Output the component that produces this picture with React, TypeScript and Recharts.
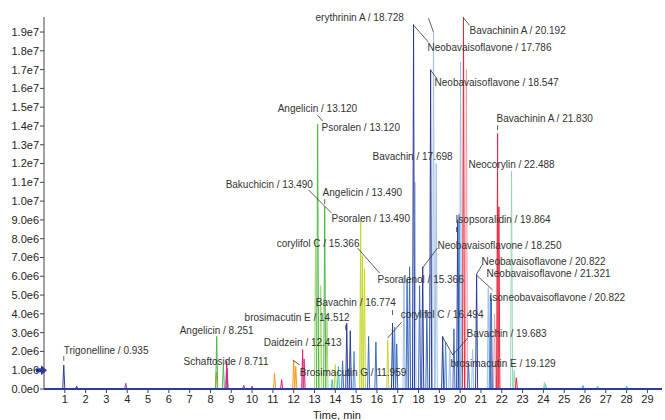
import { LineChart, Line, XAxis, YAxis, ReferenceDot, ReferenceLine, Label } from "recharts";

// time axis ticks (min) and intensity ticks (cps)
const minuteTicks = [1, 2, 3, 4, 5, 6, 7, 8, 9, 10, 11, 12, 13, 14, 15, 16, 17, 18, 19, 20, 21, 22, 23, 24, 25, 26, 27, 28, 29];
const intensityTicks = [0, 1e6, 2e6, 3e6, 4e6, 5e6, 6e6, 7e6, 8e6, 9e6, 1e7, 1.1e7, 1.2e7, 1.3e7, 1.4e7, 1.5e7, 1.6e7, 1.7e7, 1.8e7, 1.9e7];

// peaks per trace: [retention time (min), height (cps)]
const navyPeaks = [
  [0.95, 1.28e6], [1.57, 0.16e6], [14.55, 3.5e6], [14.72, 3.1e6], [16.75, 3.5e6],
  [17.76, 19.4e6], [18.2, 6.5e6], [18.58, 17.0e6], [19.16, 2.8e6], [19.88, 9.0e6], [20.79, 6.1e6],
];
const bluePeaks = [
  [14.35, 1.5e6], [15.6, 2.8e6], [15.95, 2.5e6], [16.95, 2.4e6], [17.45, 5.8e6], [17.57, 6.5e6],
  [18.05, 5.5e6], [18.4, 4.2e6], [19.7, 3.2e6], [20.4, 1.4e6], [21.5, 4.8e6],
];
const lightBluePeaks = [
  [17.3, 6.0e6], [17.83, 11.0e6], [18.72, 19.0e6], [18.85, 12.0e6], [19.5, 2.0e6],
  [20.02, 17.4e6], [20.6, 2.1e6], [21.35, 5.4e6],
];
const steelBluePeaks = [
  [14.9, 2.0e6], [16.85, 3.3e6], [19.3, 2.5e6], [19.95, 9.3e6], [21.45, 5.0e6],
];
const redPeaks = [[20.16, 19.8e6], [21.8, 13.6e6], [21.86, 9.7e6], [22.7, 0.6e6]];
const lightRedPeaks = [[20.3, 17.0e6], [21.65, 4.0e6]];
const greenPeaks = [[8.3, 2.8e6], [8.62, 1.3e6], [13.15, 14.1e6], [13.49, 9.7e6]];
const lightGreenPeaks = [[13.05, 8.0e6], [13.3, 5.5e6], [13.6, 4.0e6]];
const yellowGreenPeaks = [[14.0, 1.3e6], [15.22, 9.0e6], [15.3, 7.1e6], [15.4, 6.4e6], [16.52, 2.6e6]];
const mintPeaks = [[22.47, 11.6e6], [22.6, 1.0e6], [24.05, 0.37e6]];
const orangePeaks = [[8.28, 0.9e6], [11.08, 0.85e6], [12.0, 1.5e6], [12.1, 1.2e6]];
const magentaPeaks = [[8.78, 1.5e6], [11.42, 0.5e6], [12.43, 2.1e6], [12.5, 1.6e6]];
const purplePeaks = [[3.93, 0.3e6], [8.8, 1.1e6], [9.6, 0.2e6], [10.0, 0.15e6]];
const cyanPeaks = [[13.85, 0.5e6], [14.15, 1.2e6], [24.1, 0.25e6], [25.9, 0.2e6], [26.6, 0.15e6], [28.0, 0.15e6]];

const traces = [
  { key: "orange", color: "#f29a1e", peaks: orangePeaks },
  { key: "purple", color: "#9b3fb5", peaks: purplePeaks },
  { key: "magenta", color: "#e2207f", peaks: magentaPeaks },
  { key: "cyan", color: "#2dbfe0", peaks: cyanPeaks },
  { key: "mint", color: "#98d8b4", peaks: mintPeaks },
  { key: "lightGreen", color: "#a6d870", peaks: lightGreenPeaks },
  { key: "green", color: "#4cb848", peaks: greenPeaks },
  { key: "yellowGreen", color: "#c5d628", peaks: yellowGreenPeaks },
  { key: "lightRed", color: "#f39aa2", peaks: lightRedPeaks },
  { key: "red", color: "#e8253a", peaks: redPeaks },
  { key: "lightBlue", color: "#a3c1e6", peaks: lightBluePeaks },
  { key: "steelBlue", color: "#4a90d9", peaks: steelBluePeaks },
  { key: "blue", color: "#3d6cc0", peaks: bluePeaks },
  { key: "navy", color: "#2b3c9b", peaks: navyPeaks },
];

const HALF = 0.05;
function toTrace(peaks: number[][]) {
  const pts: { t: number; v: number }[] = [{ t: 0, v: 0 }];
  peaks.forEach(([t, h]) => {
    pts.push({ t: t - HALF, v: 0 }, { t, v: h }, { t: t + HALF, v: 0 });
  });
  pts.push({ t: 29.7, v: 0 });
  return pts.sort((a, b) => a.t - b.t);
}

// annotation text, anchored at its left/middle point (time, intensity)
const annotations = [
  { text: "erythrinin A / 18.728", t: 13.05, v: 19.75e6 },
  { text: "Bavachinin A / 20.192", t: 20.45, v: 19.1e6 },
  { text: "Neobavaisoflavone / 17.786", t: 18.43, v: 18.19e6 },
  { text: "Neobavaisoflavone / 18.547", t: 18.77, v: 16.33e6 },
  { text: "Angelicin / 13.120", t: 11.23, v: 14.95e6 },
  { text: "Psoralen / 13.120", t: 13.34, v: 13.94e6 },
  { text: "Bavachinin A / 21.830", t: 21.75, v: 14.41e6 },
  { text: "Bavachin / 17.698", t: 15.79, v: 12.39e6 },
  { text: "Neocorylin / 22.488", t: 20.4, v: 11.97e6 },
  { text: "Bakuchicin / 13.490", t: 8.73, v: 10.9e6 },
  { text: "Angelicin / 13.490", t: 13.39, v: 10.48e6 },
  { text: "Psoralen / 13.490", t: 13.82, v: 9.1e6 },
  { text: "Isopsoralidin / 19.864", t: 19.78, v: 9.04e6 },
  { text: "corylifol C / 15.366", t: 11.18, v: 7.77e6 },
  { text: "Neobavaisoflavone / 18.250", t: 18.91, v: 7.66e6 },
  { text: "Neobavaisoflavone / 20.822", t: 21.03, v: 6.81e6 },
  { text: "Neobavaisoflavone / 21.321", t: 21.27, v: 6.17e6 },
  { text: "Psoralenol / 15.366", t: 16.03, v: 5.85e6 },
  { text: "Isoneobavaisoflavone / 20.822", t: 21.41, v: 4.89e6 },
  { text: "Bavachin / 16.774", t: 13.06, v: 4.63e6 },
  { text: "brosimacutin E / 14.512", t: 9.64, v: 3.83e6 },
  { text: "corylifol C / 16.494", t: 17.14, v: 3.94e6 },
  { text: "Angelicin / 8.251", t: 6.52, v: 3.14e6 },
  { text: "Bavachin / 19.683", t: 20.31, v: 2.98e6 },
  { text: "Daidzein / 12.413", t: 10.56, v: 2.45e6 },
  { text: "Trigonelline / 0.935", t: 0.95, v: 2.07e6 },
  { text: "Schaftoside / 8.711", t: 6.71, v: 1.49e6 },
  { text: "brosimacutin E / 19.129", t: 19.54, v: 1.38e6 },
  { text: "Brosimacutin G / 11.959", t: 12.29, v: 0.9e6 },
];

// leader lines from labels to peaks
const leaders = [
  [[0.95, 1.75e6], [0.95, 1.5e6]],
  [[20.16, 19.75e6], [20.45, 19.36e6]],
  [[18.48, 19.73e6], [18.72, 18.99e6]],
  [[17.76, 19.36e6], [18.48, 18.46e6]],
  [[18.58, 16.97e6], [18.87, 16.54e6]],
  [[13.15, 14.57e6], [13.39, 14.26e6]],
  [[12.72, 10.59e6], [13.82, 9.36e6]],
  [[13.49, 10.11e6], [13.49, 9.84e6]],
  [[15.07, 7.5e6], [16.13, 6.17e6]],
  [[16.75, 4.2e6], [16.75, 3.94e6]],
  [[14.5, 3.4e6], [14.5, 3.14e6]],
  [[17.19, 3.56e6], [16.51, 2.71e6]],
  [[18.91, 7.5e6], [18.19, 6.44e6]],
  [[19.83, 8.62e6], [19.83, 8.35e6]],
  [[21.08, 6.65e6], [20.79, 6.12e6]],
  [[20.79, 6.06e6], [21.56, 5.27e6]],
  [[19.16, 2.77e6], [19.64, 1.81e6]],
  [[19.64, 1.81e6], [20.36, 2.71e6]],
  [[11.95, 1.54e6], [12.29, 1.28e6]],
  [[21.8, 14.04e6], [21.8, 13.78e6]],
];

const FONT = "'Liberation Sans', Arial, sans-serif";

function fmtIntensity(v: number) {
  if (v === 0) return "0.0e0";
  const exp = Math.floor(Math.log10(v) + 1e-9);
  return (v / Math.pow(10, exp)).toFixed(1) + "e" + exp;
}

export default function App() {
  return (
    <div style={{ position: "absolute", left: 0, top: 0, width: 665, height: 420, background: "#fff" }}>
      <LineChart width={665} height={420} margin={{ top: 17, right: 3, bottom: 0, left: 0 }}>
        <XAxis
          type="number"
          dataKey="t"
          domain={[0, 29.7]}
          allowDataOverflow
          ticks={minuteTicks}
          tickSize={4}
          tickMargin={2}
          height={31}
          axisLine={{ stroke: "#2b3c9b", strokeWidth: 2 }}
          tickLine={{ stroke: "#444" }}
          tick={{ fontSize: 11, fill: "#222", fontFamily: FONT }}
        >
          <Label value="Time, min" position="insideBottom" offset={1} dx={-16} style={{ fontSize: 11, fill: "#222", fontFamily: FONT }} />
        </XAxis>
        <YAxis
          type="number"
          domain={[0, 1.98e7]}
          allowDataOverflow
          ticks={intensityTicks}
          tickFormatter={fmtIntensity}
          width={44}
          tickSize={4}
          tickMargin={1}
          interval={0}
          stroke="#444"
          tick={{ fontSize: 11, fill: "#222", fontFamily: FONT }}
        />
        {traces.map((tr) => (
          <Line
            key={tr.key}
            data={toTrace(tr.peaks)}
            dataKey="v"
            type="linear"
            stroke={tr.color}
            strokeWidth={1}
            dot={false}
            activeDot={false}
            isAnimationActive={false}
          />
        ))}
        {leaders.map((seg, i) => (
          <ReferenceLine
            key={"l" + i}
            segment={[{ x: seg[0][0], y: seg[0][1] }, { x: seg[1][0], y: seg[1][1] }]}
            stroke="#333"
            strokeWidth={0.8}
          />
        ))}
        {annotations.map((a) => (
          <ReferenceDot
            key={a.text}
            x={a.t}
            y={a.v}
            r={0}
            shape={(p: any) => (
              <text x={p.cx} y={p.cy} dy="0.35em" fontSize={10} fill="#333" fontFamily={FONT}>
                {a.text}
              </text>
            )}
          />
        ))}
        <ReferenceDot
          x={0}
          y={1e6}
          r={0}
          shape={(p: any) => (
            <polygon
              points={`${p.cx - 8},${p.cy - 2} ${p.cx - 3},${p.cy - 2} ${p.cx - 3},${p.cy - 5} ${p.cx + 3},${p.cy} ${p.cx - 3},${p.cy + 5} ${p.cx - 3},${p.cy + 2} ${p.cx - 8},${p.cy + 2}`}
              fill="#2b3c9b"
            />
          )}
        />
      </LineChart>
    </div>
  );
}
